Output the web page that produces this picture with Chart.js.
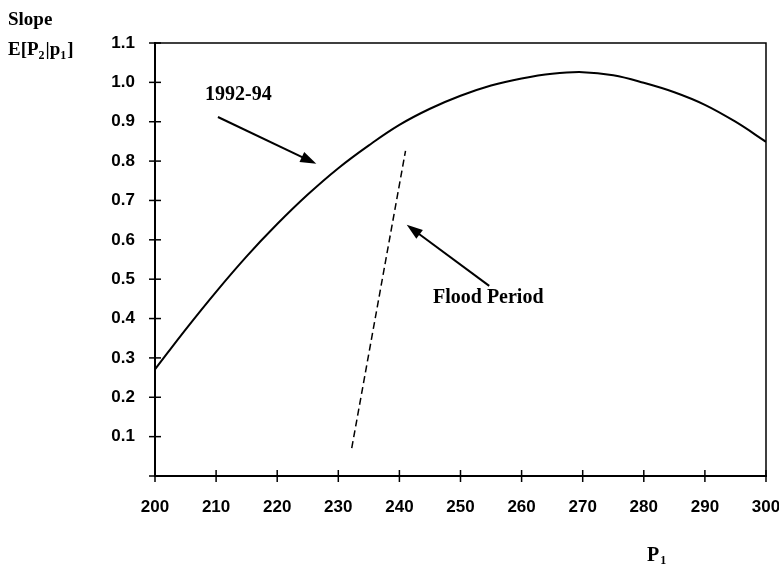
<!DOCTYPE html>
<html>
<head>
<meta charset="utf-8">
<script src="https://cdn.jsdelivr.net/npm/chart.js@4.4.1/dist/chart.umd.min.js"></script>
<style>
  body { margin: 0; background: #fff; }
  canvas { display: block; }
</style>
</head>
<body>
<canvas id="slope-chart" width="779" height="564"></canvas>
<script>
// P1 values and the slope curve for 1992-94
const pValues = [200, 205, 210, 215, 220, 225, 230, 235, 240, 245, 250, 255, 260, 265, 270, 275, 280, 285, 290, 295, 300];
const slope9294 = [0.271, 0.372, 0.468, 0.558, 0.640, 0.715, 0.782, 0.840, 0.892, 0.933, 0.966, 0.992, 1.010, 1.022, 1.026, 1.018, 0.999, 0.975, 0.943, 0.900, 0.849];
// flood period: straight dashed segment
const floodP = [232.2, 241.0];
const floodSlope = [0.071, 0.826];

const serif = '"Liberation Serif", "Times New Roman", serif';
const sans = '"Liberation Sans", Arial, sans-serif';

function toPoints(xs, ys) {
  return xs.map((x, i) => ({ x: x, y: ys[i] }));
}

function drawArrow(ctx, x1, y1, x2, y2) {
  const ang = Math.atan2(y2 - y1, x2 - x1);
  const len = 16, half = 5.5;
  ctx.beginPath();
  ctx.moveTo(x1, y1);
  ctx.lineTo(x2 - Math.cos(ang) * len * 0.8, y2 - Math.sin(ang) * len * 0.8);
  ctx.lineWidth = 2;
  ctx.stroke();
  ctx.beginPath();
  ctx.moveTo(x2, y2);
  ctx.lineTo(x2 - Math.cos(ang) * len - Math.sin(ang) * half, y2 - Math.sin(ang) * len + Math.cos(ang) * half);
  ctx.lineTo(x2 - Math.cos(ang) * len + Math.sin(ang) * half, y2 - Math.sin(ang) * len - Math.cos(ang) * half);
  ctx.closePath();
  ctx.fill();
}

const decorations = {
  id: 'decorations',
  afterDraw(chart) {
    const ctx = chart.ctx;
    const xs = chart.scales.x, ys = chart.scales.y;
    const a = chart.chartArea;
    ctx.save();
    ctx.strokeStyle = '#000';
    ctx.fillStyle = '#000';

    // top and right frame
    ctx.lineWidth = 1.5;
    ctx.beginPath();
    ctx.moveTo(a.left, a.top);
    ctx.lineTo(a.right, a.top);
    ctx.lineTo(a.right, a.bottom);
    ctx.stroke();

    // ticks crossing the axes
    ctx.lineWidth = 1.5;
    ys.ticks.forEach(t => {
      const y = ys.getPixelForValue(t.value);
      ctx.beginPath();
      ctx.moveTo(a.left - 6, y);
      ctx.lineTo(a.left + 6, y);
      ctx.stroke();
    });
    xs.ticks.forEach(t => {
      const x = xs.getPixelForValue(t.value);
      ctx.beginPath();
      ctx.moveTo(x, a.bottom - 6);
      ctx.lineTo(x, a.bottom + 6);
      ctx.stroke();
    });

    // annotations
    drawArrow(ctx, xs.getPixelForValue(210.3), ys.getPixelForValue(0.912), xs.getPixelForValue(226.4), ys.getPixelForValue(0.793));
    drawArrow(ctx, xs.getPixelForValue(254.7), ys.getPixelForValue(0.483), xs.getPixelForValue(241.2), ys.getPixelForValue(0.638));
    ctx.font = 'bold 20px ' + serif;
    ctx.textBaseline = 'alphabetic';
    ctx.textAlign = 'left';
    ctx.fillText('1992-94', xs.getPixelForValue(208.2), ys.getPixelForValue(0.955));
    ctx.fillText('Flood Period', xs.getPixelForValue(245.5), ys.getPixelForValue(0.44));

    // axis titles
    ctx.font = 'bold 19px ' + serif;
    ctx.fillText('Slope', 8, 25);
    let x = 8;
    const parts = [['E[P', false], ['2', true], ['|p', false], ['1', true], [']', false]];
    parts.forEach(p => {
      ctx.font = p[1] ? 'bold 12px ' + serif : 'bold 19px ' + serif;
      ctx.fillText(p[0], x, p[1] ? 59 : 55);
      x += ctx.measureText(p[0]).width + (p[1] ? 1 : 0);
    });
    ctx.font = 'bold 20px ' + serif;
    ctx.fillText('P', 647, 561);
    const pw = ctx.measureText('P').width;
    ctx.font = 'bold 12px ' + serif;
    ctx.fillText('1', 647 + pw + 1, 564);
    ctx.restore();
  }
};

new Chart(document.getElementById('slope-chart').getContext('2d'), {
  type: 'scatter',
  data: {
    datasets: [
      { label: '1992-94', data: toPoints(pValues, slope9294), showLine: true, borderColor: '#000', borderWidth: 2, pointRadius: 0, tension: 0.4, fill: false },
      { label: 'Flood Period', data: toPoints(floodP, floodSlope), showLine: true, borderColor: '#000', borderWidth: 1.5, borderDash: [7, 4], pointRadius: 0, fill: false }
    ]
  },
  options: {
    responsive: false,
    animation: false,
    layout: { padding: { top: 43, right: 13, left: 0, bottom: 0 } },
    plugins: { legend: { display: false }, tooltip: { enabled: false } },
    scales: {
      x: {
        type: 'linear', min: 200, max: 300,
        grid: { display: false, drawTicks: false },
        border: { display: true, color: '#000', width: 2 },
        ticks: { stepSize: 10, padding: 21, color: '#000', font: { family: sans, size: 17, weight: 'bold' } },
        afterFit: s => { s.height = 88; s.paddingLeft = 0; s.paddingRight = 0; }
      },
      y: {
        min: 0, max: 1.1,
        grid: { display: false, drawTicks: false },
        border: { display: true, color: '#000', width: 2 },
        ticks: {
          stepSize: 0.1, padding: 20, color: '#000',
          font: { family: sans, size: 17, weight: 'bold' },
          callback: v => (Math.abs(v) < 1e-9 ? '' : v.toFixed(1))
        },
        afterFit: s => { s.width = 155; s.paddingTop = 0; s.paddingBottom = 0; }
      }
    }
  },
  plugins: [decorations]
});
</script>
</body>
</html>
